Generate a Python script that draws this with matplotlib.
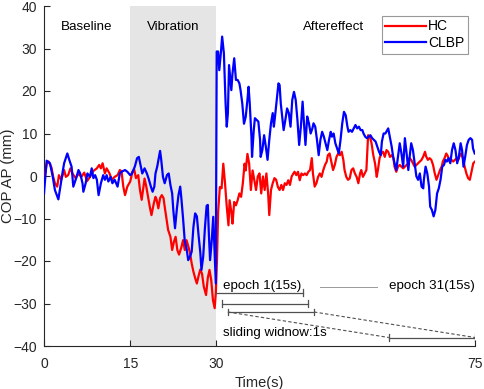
import matplotlib
matplotlib.use("Agg")
import matplotlib.pyplot as plt

plt.rcParams["font.family"] = ["Liberation Sans", "DejaVu Sans"]

# HC (red) trace: time (s), COP AP (mm)
HC_T = [0.0, 0.5, 0.8, 1.3, 1.6, 1.9, 2.3, 2.6, 3.0, 3.5, 3.8, 4.2, 4.6, 5.0, 5.5, 6.0, 6.5, 7.0,
        7.5, 8.0, 8.6, 9.2, 9.6, 9.9, 10.2, 10.6, 10.9, 11.4, 11.8, 12.3, 12.8, 13.2, 13.5, 13.8,
        14.1, 14.5, 15.0, 15.4, 15.7, 16.0, 16.4, 16.7, 17.0, 17.3, 17.5, 17.8, 18.1, 18.4, 18.7,
        19.1, 19.4, 19.6, 19.9, 20.2, 20.5, 20.8, 21.0, 21.3, 21.6, 22.0, 22.3, 22.6, 22.9, 23.2,
        23.5, 23.9, 24.2, 24.5, 24.8, 25.1, 25.4, 25.7, 26.0, 26.3, 26.6, 26.9, 27.2, 27.5, 27.8,
        28.2, 28.5, 28.8, 29.1, 29.4, 29.7, 29.9, 30.1, 30.3, 30.6, 30.9, 31.2, 31.5, 31.8, 32.1,
        32.3, 32.6, 32.8, 33.1, 33.4, 33.7, 34.0, 34.3, 34.6, 34.9, 35.1, 35.4, 35.7, 36.0, 36.3,
        36.6, 36.9, 37.2, 37.5, 37.8, 38.1, 38.4, 38.7, 39.0, 39.2, 39.5, 39.8, 40.1, 40.4, 40.7,
        41.0, 41.3, 41.6, 41.9, 42.2, 42.5, 42.8, 43.1, 43.4, 43.6, 43.9, 44.2, 44.5, 44.8, 45.1,
        45.4, 45.7, 46.0, 46.3, 46.6, 46.8, 47.1, 47.4, 47.7, 48.0, 48.3, 48.6, 48.9, 49.2, 49.4,
        49.7, 50.0, 50.3, 50.6, 50.9, 51.2, 51.5, 51.8, 52.1, 52.3, 52.6, 52.9, 53.2, 53.5, 53.8,
        54.1, 54.4, 54.7, 55.0, 55.2, 55.5, 55.8, 56.1, 56.4, 56.7, 57.0, 57.3, 57.6, 57.9, 58.1,
        58.4, 58.7, 59.0, 59.3, 59.6, 59.9, 60.2, 60.5, 60.8, 61.0, 61.3, 61.6, 61.9, 62.2, 62.5,
        62.8, 63.1, 63.4, 63.6, 63.9, 64.2, 64.5, 64.8, 65.1, 65.4, 65.7, 66.0, 66.3, 66.5, 66.8,
        67.1, 67.4, 67.7, 68.0, 68.3, 68.6, 68.9, 69.2, 69.4, 69.7, 70.0, 70.3, 70.6, 70.9, 71.2,
        71.5, 71.8, 72.1, 72.3, 72.6, 72.9, 73.2, 73.5, 73.8, 74.1, 74.4, 74.7, 75.0]
HC_Y = [-0.8, 3.0, 3.4, 2.0, -0.2, -1.7, -2.5, 0.2, -0.9, 1.4, -0.2, 0.2, 1.8, 0.5, -0.5, 0.5, -0.2, 0.8,
        -1.2, -0.2, 1.2, 1.8, 2.6, 1.8, 3.0, 0.6, 1.8, 0.6, -0.9, -0.2, 0.2, 1.4, 1.0, -2.5,
        -4.5, -2.5, -1.3, 1.0, 1.5, -0.5, 0.2, -3.3, -5.6, -2.5, -0.6, -2.5, -4.9, -7.2, -9.2,
        -6.5, -4.9, -5.6, -7.6, -5.2, -4.5, -5.2, -7.2, -10.0, -12.7, -14.3, -17.4, -15.5, -14.3, -17.4,
        -18.5, -16.8, -15.1, -17.4, -15.1, -16.5, -18.0, -20.6, -22.5, -24.0, -25.3, -23.5, -22.0, -23.0, -26.0,
        -28.0, -24.0, -22.1, -24.5, -29.2, -31.1, -27.5, -20.0, -8.5, -2.6, -2.9, 2.9, -1.7, -7.2, -11.6,
        -5.7, -8.5, -11.2, -6.1, -6.9, -5.7, -4.1, -4.9, -1.7, 2.9, 1.3, 5.2, 2.9, -3.3, 1.3,
        -1.0, -3.3, -0.1, 0.6, -4.1, -0.1, -3.3, 0.6, -4.1, -9.2, -3.3, -1.7, -0.5, -0.9, -2.6,
        -3.3, -2.1, -3.3, -1.7, -2.1, -1.0, -2.1, -0.1, 0.6, 1.0, 0.2, 1.0, -1.0, 0.6, 0.2,
        0.6, 0.2, 1.0, 1.4, 4.2, 0.6, -2.5, -1.7, -0.2, 0.6, -0.2, 1.4, 2.6, 3.4, 4.9,
        5.3, 3.4, 1.4, 2.6, 4.5, 5.3, 4.9, 5.7, 3.7, 1.4, -0.2, -0.9, -0.55, 1.4, 1.8,
        0.6, -0.2, -1.7, 0.6, 1.4, -0.2, 0.6, 1.4, 9.6, 9.25, 7.7, 4.9, 3.0, -0.2, 1.4,
        4.2, 5.3, 5.7, 4.5, 6.1, 5.7, 4.5, 4.9, 4.2, 2.2, 1.0, 2.2, 2.6, 2.2, 1.8,
        2.2, 2.6, 3.0, 4.2, 3.8, 3.0, 2.2, 2.6, 3.0, 3.4, 3.8, 4.6, 5.7, 4.6, 3.8,
        4.2, 3.8, 2.6, 0.6, -0.9, 0.2, 1.4, 2.2, 3.4, 4.2, 5.3, 4.6, 3.4, 3.8, 3.4,
        3.8, 4.2, 3.8, 4.6, 5.3, 4.2, 2.2, 0.6, -0.5, -0.9, 1.0, 3.0, 3.4]

# CLBP (blue) trace
CLBP_T = [0.0, 0.46, 1.04, 1.5, 1.9, 2.5, 2.9, 3.25, 3.5, 4.06, 4.4, 4.8, 5.1, 5.6, 6.0, 6.3, 6.7, 6.85,
          7.25, 7.55, 8.0, 8.3, 8.6, 8.9, 9.2, 9.5, 9.9, 10.3, 10.6, 10.9, 11.2, 11.6, 11.9, 12.3,
          12.8, 13.2, 13.5, 14.1, 14.5, 15.0, 15.3, 15.8, 16.2, 16.5, 16.8, 17.1, 17.5, 17.9, 18.2,
          18.6, 18.9, 19.2, 19.4, 19.7, 20.0, 20.2, 20.4, 20.7, 21.0, 21.4, 21.7, 22.0, 22.3, 22.5,
          22.8, 23.1, 23.4, 23.7, 23.9, 24.2, 24.5, 24.8, 25.1, 25.4, 25.7, 26.0, 26.3, 26.6, 26.9,
          27.2, 27.4, 27.7, 28.0, 28.3, 28.5, 28.7, 28.9, 29.2, 29.45, 29.7, 29.9, 30.05, 30.3, 30.5,
          30.8, 31.0, 31.3, 31.6, 31.8, 32.0, 32.2, 32.5, 32.6, 32.8, 33.1, 33.4, 33.7, 34.0, 34.2,
          34.5, 34.8, 35.1, 35.4, 35.6, 35.8, 36.1, 36.2, 36.5, 36.7, 37.0, 37.3, 37.6, 37.7, 38.0,
          38.3, 38.6, 38.9, 39.2, 39.5, 39.8, 40.0, 40.2, 40.5, 40.8, 41.0, 41.2, 41.5, 41.7, 42.0,
          42.3, 42.6, 42.9, 43.2, 43.5, 43.8, 44.1, 44.4, 44.7, 45.0, 45.2, 45.5, 45.8, 46.1, 46.4,
          46.7, 46.9, 47.2, 47.5, 47.8, 48.1, 48.4, 48.7, 49.0, 49.3, 49.6, 49.9, 50.1, 50.4, 50.7,
          51.0, 51.3, 51.6, 51.9, 52.2, 52.5, 52.8, 53.0, 53.3, 53.6, 53.9, 54.2, 54.5, 54.8, 55.1,
          55.4, 55.6, 55.9, 56.2, 56.5, 56.8, 57.1, 57.4, 57.7, 58.0, 58.3, 58.6, 58.8, 59.1, 59.4,
          59.9, 60.5, 60.75, 61.0, 61.3, 61.6, 61.9, 62.2, 62.5, 62.8, 63.1, 63.4, 63.6, 63.9, 64.2,
          64.5, 64.8, 65.1, 65.4, 65.7, 66.0, 66.1, 66.4, 66.7, 67.0, 67.2, 67.5, 67.8, 68.1, 68.4,
          68.7, 69.0, 69.3, 69.6, 69.85, 70.1, 70.4, 70.7, 71.0, 71.3, 71.6, 71.9, 72.2, 72.5, 72.75,
          73.0, 73.3, 73.6, 73.9, 74.2, 74.5, 74.65, 74.95]
CLBP_Y = [-4.1, 3.6, 3.0, 0.0, -3.3, -5.5, -2.0, 1.0, 3.0, 5.3, 3.8, 2.2, -2.5, -0.5, 1.4, 0.6, -1.7, -3.7,
          -1.7, 0.6, -0.2, 1.8, -0.5, 0.2, -0.9, -4.5, -1.7, 0.2, -0.9, 0.2, -1.3, -0.2, -1.7, -0.9,
          -2.5, 0.6, 1.0, 1.4, 1.0, 0.2, 0.6, 2.2, 4.2, 4.5, 2.6, 0.6, 1.8, 0.6, -0.6,
          -2.5, -3.7, -2.5, 0.6, 2.2, 4.5, 5.9, 3.8, -0.2, -1.7, 0.2, 0.6, -2.1, -4.1, -8.0,
          -12.3, -8.0, -4.5, -2.5, -5.2, -10.0, -15.4, -17.0, -19.8, -19.0, -17.8, -12.0, -8.8, -9.5, -14.0,
          -18.0, -22.1, -19.0, -12.3, -7.0, -6.8, -14.0, -19.8, -15.0, -9.6, -18.0, -25.3, 29.3, 29.3, 24.9,
          29.3, 32.8, 28.9, 17.1, 11.6, 14.8, 26.1, 21.8, 20.2, 24.1, 27.7, 22.6, 22.6, 21.8, 20.2,
          17.1, 12.3, 13.9, 17.9, 21.0, 17.1, 9.2, 4.5, 10.8, 13.6, 13.2, 12.8, 8.5, 4.5, 6.1,
          9.6, 6.9, 3.8, 8.5, 12.4, 14.8, 11.6, 14.0, 17.9, 21.8, 21.4, 17.1, 13.2, 10.8, 13.2,
          15.9, 14.8, 11.6, 17.9, 19.8, 17.9, 13.2, 7.3, 11.6, 17.5, 13.2, 7.3, 14.0, 12.4, 10.0,
          11.2, 12.4, 11.6, 8.5, 4.9, 8.5, 10.4, 9.25, 7.7, 6.1, 8.5, 10.4, 9.25, 10.0, 7.7,
          6.5, 5.3, 8.5, 12.4, 15.1, 14.3, 11.6, 10.4, 10.8, 10.4, 11.2, 12.0, 11.2, 11.6, 10.8,
          10.8, 10.0, 9.25, 8.9, 9.25, 9.6, 8.9, 8.5, 8.1, 6.9, 5.7, 4.9, 8.1, 10.0, 10.0,
          11.2, 6.9, 4.6, 3.0, 1.4, 4.6, 7.7, 5.3, 2.2, 8.9, 5.3, 1.4, 4.2, 7.7, 6.1,
          3.0, -0.1, -0.9, 0.6, -2.5, -2.9, -0.9, 2.2, 0.6, -2.5, -7.2, -8.0, -9.5, -8.0, -4.1,
          -2.9, -0.9, 2.2, 2.6, 3.8, 3.4, 4.2, 3.0, 6.1, 7.7, 6.1, 3.0, 4.6, 7.7, 6.1,
          2.2, 4.6, 7.3, 8.5, 8.9, 8.5, 6.5, 5.3]

X_TICKS = [0, 15, 30, 75]
Y_TICKS = [-40, -30, -20, -10, 0, 10, 20, 30, 40]
PHASES = [("Baseline", 7.5), ("Vibration", 22.5), ("Aftereffect", 50.3)]

# epoch bars (start, end, y) and the sliding-window annotation
EPOCH_BARS = [(30, 45, -27.5), (31, 46, -30), (32, 47, -32), (60, 75, -38)]

AX_COL = "#262626"
ANN_COL = "#505050"

fig = plt.figure(figsize=(4.84, 3.89), dpi=100)
ax = fig.add_axes([44 / 484, 1 - 346 / 389, (475 - 44) / 484, (346 - 6) / 389])

ax.axvspan(15, 30, color="#e5e5e5", lw=0, zorder=0)
ax.plot(HC_T, HC_Y, color="#ff0000", lw=1.6, label="HC", zorder=3)
ax.plot(CLBP_T, CLBP_Y, color="#0000ff", lw=1.6, label="CLBP", zorder=3)

for name, xc in PHASES:
    ax.text(xc, 35, name, ha="center", va="center", fontsize=9.6, color="black")

# epoch annotations
cap = 0.8
for x0, x1, y in EPOCH_BARS:
    ax.plot([x0, x1], [y, y], color=ANN_COL, lw=0.9, zorder=4)
    ax.plot([x1, x1], [y - cap, y + cap], color=ANN_COL, lw=0.9, zorder=4)
    if x0 > 30:
        ax.plot([x0, x0], [y - cap, y + cap], color=ANN_COL, lw=0.9, zorder=4)
ax.plot([32, 60], [-32, -38], color=ANN_COL, lw=0.8, ls=(0, (3, 2)), zorder=4)
ax.plot([47, 75], [-32, -38], color=ANN_COL, lw=0.8, ls=(0, (3, 2)), zorder=4)
ax.plot([48, 58], [-26.1, -26.1], color="#999999", lw=0.7, zorder=4)
ax.text(31.1, -25.8, "epoch 1(15s)", ha="left", va="center", fontsize=9.6)
ax.text(60.0, -25.8, "epoch 31(15s)", ha="left", va="center", fontsize=9.6)
ax.text(31.1, -37.0, "sliding widnow:1s", ha="left", va="center", fontsize=9.6)

ax.set_xlim(0, 75)
ax.set_ylim(-40, 40)
ax.set_xticks(X_TICKS)
ax.set_yticks(Y_TICKS)
ax.tick_params(direction="in", length=4, color=AX_COL, labelcolor=AX_COL, labelsize=10)
ax.tick_params(axis="x", pad=8)
ax.tick_params(axis="y", pad=5)
ax.spines["top"].set_visible(False)
ax.spines["right"].set_visible(False)
for s in ("left", "bottom"):
    ax.spines[s].set_color(AX_COL)
    ax.spines[s].set_linewidth(0.8)
ax.set_xlabel("Time(s)", fontsize=10.5, color=AX_COL)
ax.set_ylabel("COP AP (mm)", fontsize=10.8, color=AX_COL)
ax.xaxis.set_label_coords(0.5, -(383 - 346) / 340, transform=ax.transAxes)
ax.yaxis.set_label_coords((8.5 - 44) / 431, 0.5, transform=ax.transAxes)
ax.xaxis.label.set_va("center")
ax.yaxis.label.set_va("center")

leg = ax.legend(loc="upper left", bbox_to_anchor=(382 / 484, 1 - 16 / 389),
                bbox_transform=fig.transFigure, fontsize=10, frameon=True,
                fancybox=False, handlelength=2.9, borderpad=0.25,
                labelspacing=0.2, handletextpad=0.15, borderaxespad=0)
leg.get_frame().set_edgecolor("#808080")
leg.get_frame().set_linewidth(0.8)

fig.savefig("out.png", dpi=100)
